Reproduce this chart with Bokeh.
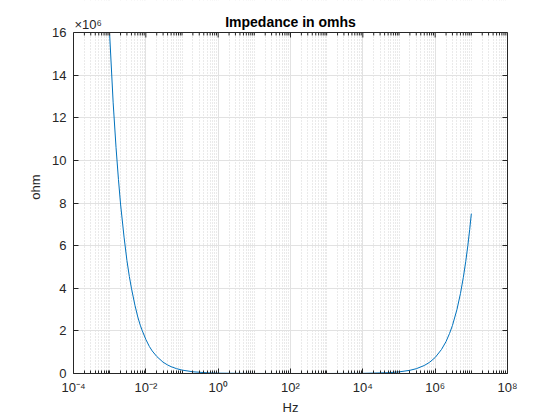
import math
from bokeh.plotting import figure
from bokeh.models import (FixedTicker, LinearAxis, CustomJSTickFormatter, Label, Range1d,
                          ColumnDataSource, BoxAnnotation, Span)
from bokeh.embed import file_html
from bokeh.resources import INLINE

# ---- data ----
freq_hz = [1e-3, 1.25e-3, 1.5e-3, 1.75e-3, 2e-3, 2.5e-3, 3e-3, 3.5e-3, 4e-3, 5e-3, 6e-3,
           7e-3, 8e-3, 1e-2, 1.25e-2, 1.5e-2, 2e-2, 3e-2, 4e-2, 5e-2, 7e-2, 0.1, 0.2,
           0.5, 1, 10, 100, 1e3, 1e4, 5e4, 1e5, 2e5, 3e5, 5e5, 7e5, 1e6, 1.5e6, 2e6,
           2.5e6, 3e6, 4e6, 5e6, 6e6, 7e6, 8e6, 9e6, 1e7]
impedance_ohm = [15.9e6, 12.7e6, 10.6e6, 9.1e6, 7.95e6, 6.4e6, 5.3e6, 4.55e6, 4.0e6, 3.2e6,
                 2.65e6, 2.27e6, 2.0e6, 1.6e6, 1.27e6, 1.06e6, 0.8e6, 0.53e6, 0.4e6,
                 0.32e6, 0.23e6, 0.16e6, 0.08e6, 0.032e6, 0.016e6, 1.6e3, 160, 750,
                 7.5e3, 37e3, 75e3, 150e3, 225e3, 375e3, 525e3, 0.75e6, 1.13e6, 1.5e6,
                 1.88e6, 2.25e6, 3.0e6, 3.75e6, 4.5e6, 5.25e6, 6.0e6, 6.75e6, 7.5e6]

x_major = [1e-4, 1e-2, 1e0, 1e2, 1e4, 1e6, 1e8]
x_labels = ["10⁻⁴", "10⁻²", "10⁰", "10²", "10⁴", "10⁶", "10⁸"]
y_major = [0, 2e6, 4e6, 6e6, 8e6, 10e6, 12e6, 14e6, 16e6]
y_min, y_max = 0, 16e6

title_text = "Impedance in omhs"
x_title = "Hz"
y_title = "ohm"
y_exponent = "×10⁶"

FONT = "Liberation Sans"
AX = "#262626"
W, H = 560, 420
LEFT, RIGHT, TOP, BOTTOM = 73, 53, 32, 47   # axes box margins in px

x_minor = []
for k in range(-4, 8):
    for m in range(1, 10):
        v = m * 10.0 ** k
        if v not in x_major:
            x_minor.append(v)

# the frame reaches the top of the canvas; the axes box ends at y_max
frame_h = H - BOTTOM
box_h = H - BOTTOM - TOP
y_top = y_max * frame_h / box_h

p = figure(width=W, height=H, x_axis_type="log", output_backend="svg",
           toolbar_location=None, x_range=Range1d(1e-4, 1e8),
           y_range=Range1d(y_min, y_top), title=None)
p.min_border_left = LEFT
p.min_border_right = RIGHT
p.min_border_top = 0
p.min_border_bottom = BOTTOM
p.background_fill_color = "white"
p.border_fill_color = "white"
p.outline_line_color = None

xt = FixedTicker(ticks=x_major, minor_ticks=x_minor)
yt = FixedTicker(ticks=y_major, minor_ticks=[])

xfmt = CustomJSTickFormatter(args=dict(vals=x_major, labs=x_labels), code="""
    for (let i = 0; i < vals.length; i++) {
        if (Math.abs(Math.log10(tick) - Math.log10(vals[i])) < 1e-6) return labs[i];
    }
    return "";
""")
yfmt = CustomJSTickFormatter(code="return (tick/1e6).toFixed(0);")
blank = CustomJSTickFormatter(code="return '';")

def style_axis(ax):
    ax.axis_line_color = AX
    ax.major_tick_line_color = AX
    ax.minor_tick_line_color = AX
    ax.major_tick_in = 5
    ax.major_tick_out = 0
    ax.minor_tick_in = 3
    ax.minor_tick_out = 0
    ax.major_label_text_font = FONT
    ax.major_label_text_font_size = "13px"
    ax.major_label_text_color = AX
    ax.axis_label_text_font = FONT
    ax.axis_label_text_font_size = "13px"
    ax.axis_label_text_font_style = "normal"
    ax.axis_label_text_color = AX

xa = p.xaxis[0]
xa.ticker = xt
xa.formatter = xfmt
xa.axis_label = x_title
style_axis(xa)
xa.major_label_standoff = 6
xa.axis_label_standoff = 2

ya = p.yaxis[0]
ya.ticker = yt
ya.formatter = yfmt
ya.axis_label = y_title
ya.bounds = (y_min, y_max)
style_axis(ya)
ya.major_label_standoff = 7
ya.axis_label_standoff = 6

right = LinearAxis(ticker=yt, formatter=blank, bounds=(y_min, y_max))
style_axis(right)
right.major_label_standoff = 0
p.add_layout(right, "right")

p.xgrid.ticker = xt
p.ygrid.ticker = yt
p.xgrid.grid_line_color = "#e2e2e2"
p.ygrid.grid_line_color = "#e2e2e2"
p.xgrid.grid_line_width = 1
p.ygrid.grid_line_width = 1
p.xgrid.minor_grid_line_color = "#d4d4d4"
p.xgrid.minor_grid_line_dash = "1 2"
p.xgrid.minor_grid_line_width = 1

src = ColumnDataSource(dict(f=freq_hz, z=impedance_ohm))
p.line("f", "z", source=src, line_color="#0072BD", line_width=1)

# blank area above the axes box (covers the grid there)
p.add_layout(BoxAnnotation(bottom=y_max, fill_color="white", fill_alpha=1.0,
                           line_color=None, level="annotation"))
# top edge of the box and its inward ticks
p.add_layout(Span(location=y_max, dimension="width", line_color=AX, line_width=1))
p.ray(x=x_major, y=[y_max] * len(x_major), length=5, length_units="screen",
      angle=-math.pi / 2, line_color=AX, line_width=1, level="annotation")
p.ray(x=x_minor, y=[y_max] * len(x_minor), length=3, length_units="screen",
      angle=-math.pi / 2, line_color=AX, line_width=1, level="annotation")

# title and exponent (screen units: from the frame's bottom-left corner)
plot_w = W - LEFT - RIGHT
p.add_layout(Label(x=plot_w / 2, y=frame_h - 21, x_units="screen", y_units="screen",
                   text=title_text, text_font=FONT, text_font_size="14px",
                   text_font_style="bold", text_color="black",
                   text_align="center", text_baseline="alphabetic"))
p.add_layout(Label(x=1, y=frame_h - 24, x_units="screen", y_units="screen",
                   text=y_exponent, text_font=FONT, text_font_size="13px",
                   text_color=AX, text_align="left", text_baseline="alphabetic"))

open("out.html", "w").write(file_html(p, INLINE))
